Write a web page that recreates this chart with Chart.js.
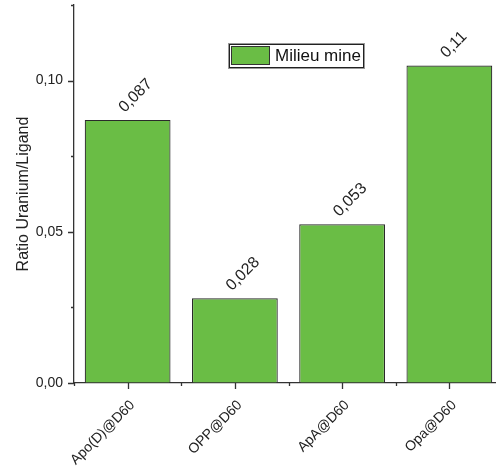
<!DOCTYPE html>
<html lang="fr">
<head>
  <meta charset="UTF-8" />
  <title>Ratio Uranium/Ligand</title>
  <script src="https://cdn.jsdelivr.net/npm/chart.js"></script>
  <style>
    html, body {
      margin: 0;
      padding: 0;
      background: #fff;
      overflow: hidden;
    }
    #wrap {
      width: 503px;
      height: 468px;
    }
  </style>
</head>
<body>
  <div id="wrap"><canvas id="ratioBar" width="503" height="468"></canvas></div>
  <script>
    // data
    const categories = ['Apo(D)@D60', 'OPP@D60', 'ApA@D60', 'Opa@D60'];
    const ratioValues = [0.087, 0.028, 0.0525, 0.105];
    const valueLabels = ['0,087', '0,028', '0,053', '0,11'];
    const seriesName = 'Milieu mine';
    const yMajorTicks = [0, 0.05, 0.10];

    const FONT = '"Liberation Sans", Arial, sans-serif';
    const AXIS = '#333';
    const TEXT = '#222';

    // ticks: major at labels / categories, minor in between
    const tickMarks = {
      id: 'tickMarks',
      afterDraw(chart) {
        const ctx = chart.ctx;
        const xs = chart.scales.x, ys = chart.scales.y;
        ctx.save();
        ctx.strokeStyle = AXIS;
        ctx.lineWidth = 1.3;
        ctx.beginPath();
        ys.ticks.forEach(t => {
          const y = Math.round(ys.getPixelForValue(t.value)) + 0.5;
          const major = yMajorTicks.some(m => Math.abs(m - t.value) < 1e-9);
          const len = major ? 6 : 3;
          ctx.moveTo(ys.right, y);
          ctx.lineTo(ys.right - len, y);
        });
        const step = xs.getPixelForValue(1) - xs.getPixelForValue(0);
        categories.forEach((c, i) => {
          const x = Math.round(xs.getPixelForValue(i)) + 0.5;
          ctx.moveTo(x, xs.top);
          ctx.lineTo(x, xs.top + 6);
          const b = Math.round(xs.getPixelForValue(i) - step / 2) + 0.5;
          ctx.moveTo(b, xs.top);
          ctx.lineTo(b, xs.top + 3);
        });
        ctx.stroke();
        ctx.restore();
      }
    };

    // rotated value labels above the bars
    const barValues = {
      id: 'barValues',
      afterDatasetsDraw(chart) {
        const ctx = chart.ctx;
        const meta = chart.getDatasetMeta(0);
        ctx.save();
        ctx.fillStyle = TEXT;
        ctx.font = '16px ' + FONT;
        ctx.textAlign = 'left';
        ctx.textBaseline = 'alphabetic';
        meta.data.forEach((bar, i) => {
          ctx.save();
          ctx.translate(bar.x - 3, bar.y - 7);
          ctx.rotate(-Math.PI / 4);
          ctx.fillText(valueLabels[i], 0, 0);
          ctx.restore();
        });
        ctx.restore();
      }
    };

    // boxed legend like the Origin one
    const boxLegend = {
      id: 'boxLegend',
      afterDraw(chart) {
        const ctx = chart.ctx;
        const ds = chart.data.datasets[0];
        const x = chart.chartArea.left + 154, y = 43;
        ctx.save();
        ctx.strokeStyle = '#999';
        ctx.lineWidth = 1;
        ctx.strokeRect(x + 0.5, y + 0.5, 136, 25);
        ctx.strokeStyle = '#222';
        ctx.strokeRect(x + 1.5, y + 1.5, 134, 23);
        ctx.fillStyle = ds.backgroundColor;
        ctx.fillRect(x + 3, y + 3, 39, 19);
        ctx.strokeStyle = '#333';
        ctx.strokeRect(x + 3.5, y + 3.5, 38, 18);
        ctx.fillStyle = '#111';
        ctx.font = '17px ' + FONT;
        ctx.textBaseline = 'middle';
        ctx.fillText(ds.label, x + 47, y + 13.5);
        ctx.restore();
      }
    };

    new Chart(document.getElementById('ratioBar'), {
      type: 'bar',
      data: {
        labels: categories,
        datasets: [{
          label: seriesName,
          data: ratioValues,
          backgroundColor: '#6abd45',
          borderColor: '#2a2a2a',
          borderWidth: 1.2,
          barPercentage: 0.8,
          categoryPercentage: 1
        }]
      },
      options: {
        responsive: false,
        animation: false,
        layout: { padding: { top: 5, left: 14, right: 0, bottom: 0 } },
        plugins: {
          legend: { display: false },
          tooltip: { enabled: false }
        },
        scales: {
          x: {
            grid: { drawOnChartArea: false, drawTicks: false },
            border: { display: true, color: AXIS, width: 1.3 },
            ticks: {
              autoSkip: false,
              minRotation: 45,
              maxRotation: 45,
              padding: 14,
              labelOffset: 5,
              color: TEXT,
              font: { family: FONT, size: 14 }
            },
            afterFit(scale) {
              scale.height = 85;
              scale.paddingLeft = 0;
              scale.paddingRight = 0;
            }
          },
          y: {
            min: 0,
            max: 0.125,
            grid: { drawOnChartArea: false, drawTicks: false },
            border: { display: true, color: AXIS, width: 1.3 },
            title: {
              display: true,
              text: 'Ratio Uranium/Ligand',
              color: TEXT,
              font: { family: FONT, size: 16 },
              padding: 0
            },
            ticks: {
              stepSize: 0.025,
              autoSkip: false,
              padding: 11,
              color: TEXT,
              font: { family: FONT, size: 14 },
              callback(v) {
                const major = yMajorTicks.some(m => Math.abs(m - v) < 1e-9);
                return major ? v.toFixed(2).replace('.', ',') : '';
              }
            },
            afterFit(scale) {
              scale.width = 60;
              scale.paddingTop = 0;
              scale.paddingBottom = 0;
            }
          }
        }
      },
      plugins: [tickMarks, barValues, boxLegend]
    });
  </script>
</body>
</html>
